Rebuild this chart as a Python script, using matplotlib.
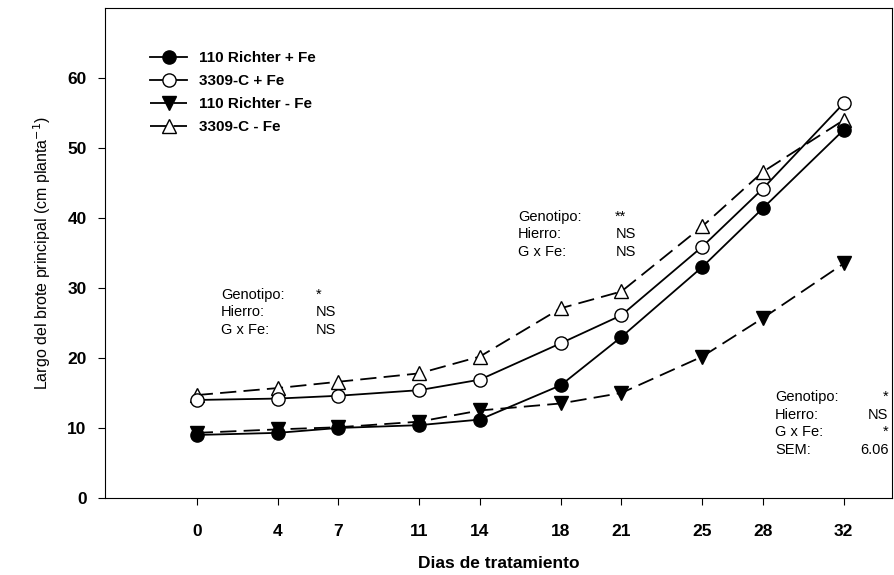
import matplotlib
matplotlib.use("Agg")
import matplotlib.pyplot as plt

plt.rcParams["font.family"] = ["Liberation Sans", "DejaVu Sans"]

dias = [0, 4, 7, 11, 14, 18, 21, 25, 28, 32]

richter_mas_fe = [9.0, 9.3, 10.0, 10.4, 11.2, 16.1, 23.0, 33.0, 41.4, 52.6]
c3309_mas_fe = [14.0, 14.2, 14.6, 15.4, 16.9, 22.1, 26.1, 35.9, 44.2, 56.4]
richter_menos_fe = [9.3, 9.8, 10.1, 10.9, 12.5, 13.5, 15.0, 20.2, 25.7, 33.5]
c3309_menos_fe = [14.7, 15.7, 16.6, 17.8, 20.2, 27.1, 29.5, 38.8, 46.6, 54.0]

fig = plt.figure(figsize=(8.95, 5.75), dpi=100)
ax = fig.add_axes([0.117, 0.134, 0.88, 0.852])

dash = (0, (9, 4))
ax.plot(dias, richter_mas_fe, color="black", linewidth=1.3, marker="o",
        markersize=9.5, markerfacecolor="black", label="110 Richter + Fe", zorder=4)
ax.plot(dias, c3309_mas_fe, color="black", linewidth=1.3, marker="o",
        markersize=9.5, markerfacecolor="white", label="3309-C + Fe", zorder=4)
ax.plot(dias, richter_menos_fe, color="black", linewidth=1.3, linestyle=dash, marker="v",
        markersize=9.5, markerfacecolor="black", label="110 Richter - Fe", zorder=3)
ax.plot(dias, c3309_menos_fe, color="black", linewidth=1.3, linestyle=dash, marker="^",
        markersize=9.5, markerfacecolor="white", label="3309-C - Fe", zorder=3)

ax.set_xlim(-4.55, 34.4)
ax.set_ylim(0, 70)
ax.set_xticks(dias)
ax.set_yticks([0, 10, 20, 30, 40, 50, 60])
ax.tick_params(axis="both", direction="out", length=5, labelsize=12.5, pad=14)
ax.tick_params(axis="y", pad=8)
for lab in ax.get_xticklabels() + ax.get_yticklabels():
    lab.set_fontweight("bold")

ax.set_xlabel("Dias de tratamiento", fontsize=12.5, fontweight="bold", labelpad=12)
ax.set_ylabel("Largo del brote principal (cm planta$^{-1}$)", fontsize=11.5, labelpad=10)

leg = ax.legend(loc="upper left", bbox_to_anchor=(0.05, 0.925), frameon=False,
                fontsize=11, handlelength=2.4, labelspacing=0.6, borderaxespad=0)
for t in leg.get_texts():
    t.set_fontweight("bold")

# statistical notes
def nota(x_izq, x_val, y0, filas, ha_val="right"):
    for i, (k, v) in enumerate(filas):
        y = y0 - i * 2.5
        ax.text(x_izq, y, k, fontsize=10.5, va="center", ha="left")
        ax.text(x_val, y, v, fontsize=10.5, va="center", ha=ha_val)

nota(1.2, 5.9, 29.0, [("Genotipo:", "*"), ("Hierro:", "NS"), ("G x Fe:", "NS")], "left")
nota(15.9, 20.7, 40.2, [("Genotipo:", "**"), ("Hierro:", "NS"), ("G x Fe:", "NS")], "left")
nota(28.6, 34.2, 14.4, [("Genotipo:", "*"), ("Hierro:", "NS"), ("G x Fe:", "*"), ("SEM:", "6.06")])

fig.savefig("out.png", dpi=100)
